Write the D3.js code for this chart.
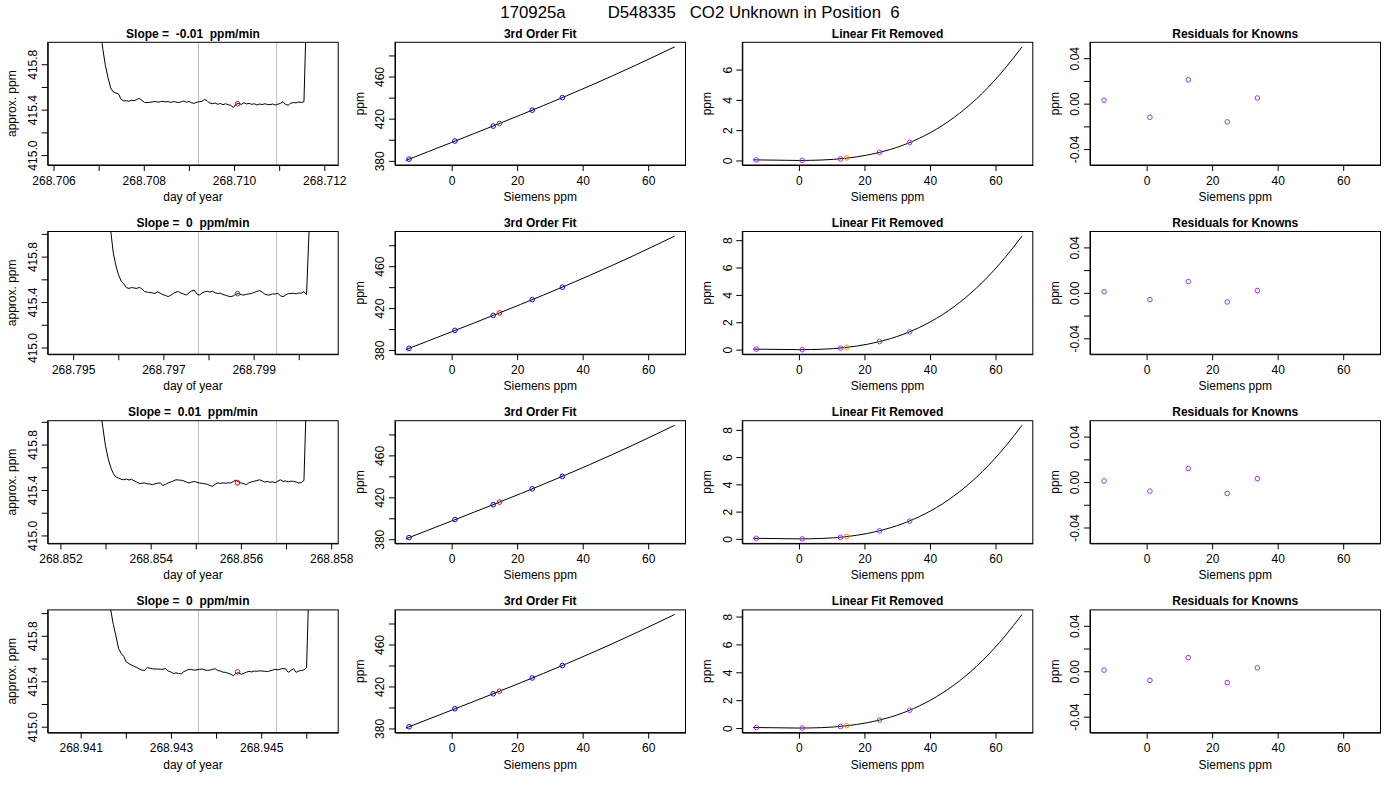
<!DOCTYPE html>
<html lang="en">
<head>
<meta charset="UTF-8">
<title>CO2 Unknown in Position 6</title>
<style>
  body { margin: 0; background: #fff; }
  svg text { font-family: "Liberation Sans", Arial, Helvetica, sans-serif; fill: #000; }
</style>
</head>
<body>
<svg id="chart"></svg>
<script src="https://cdn.jsdelivr.net/npm/d3@7"></script>
<script>
var width = 1400
var height = 800

var titleText = "170925a         D548335   CO2 Unknown in Position  6"
var slopeLabels = ["-0.01", "0", "0.01", "0"]

// analyser trace, one sample every 5 seconds, per row
var sampleSeconds = 5
var traceStart = [268.706109, 268.794675, 268.851957, 268.940508]
var trace1 = [431.2, 428.4, 426.0, 424.0, 422.3, 420.9, 419.8, 418.9, 418.2, 417.7, 417.3, 417.0, 416.8, 416.6, 416.45, 416.3,
  416.12,
  415.931, 415.786, 415.680, 415.591, 415.556, 415.547, 415.538, 415.490, 415.477, 415.479, 415.474, 415.483, 415.479, 415.490, 415.499, 415.481, 415.463, 415.462, 415.465,
  415.468, 415.472, 415.466, 415.470, 415.474, 415.468, 415.471, 415.464, 415.472, 415.467,
  415.462, 415.470, 415.476, 415.465, 415.473, 415.460, 415.456, 415.466, 415.470, 415.474,
  415.490, 415.476, 415.458, 415.452, 415.459, 415.447, 415.455, 415.444, 415.452, 415.443,
  415.438, 415.420, 415.448, 415.455, 415.446, 415.460, 415.451, 415.455, 415.447, 415.452,
  415.441, 415.450, 415.445, 415.452, 415.446, 415.444, 415.450, 415.441, 415.448, 415.455,
  415.470, 415.445, 415.440, 415.458, 415.462, 415.460, 415.468, 415.463, 415.470,
  416.30,
  418.5, 421.0, 423.2, 425.0, 426.5, 427.7, 428.6, 429.3]
var trace2 = [433.0, 430.5, 428.3, 426.4, 424.7, 423.3, 422.0, 420.9, 420.0, 419.2, 418.6, 418.0, 417.6, 417.2, 416.9, 416.7, 416.5, 416.35, 416.22, 416.12,
  416.03,
  415.83, 415.72, 415.64, 415.585, 415.560, 415.527, 415.520, 415.528, 415.523, 415.520, 415.530, 415.515, 415.492, 415.487, 415.485,
  415.480, 415.476, 415.490, 415.478, 415.465, 415.458, 415.448, 415.460, 415.476, 415.488,
  415.492, 415.478, 415.470, 415.462, 415.482, 415.498, 415.505, 415.470, 415.462, 415.480,
  415.490, 415.494, 415.488, 415.495, 415.482, 415.475, 415.478, 415.466, 415.460, 415.452,
  415.447, 415.455, 415.470, 415.474, 415.465, 415.462, 415.468, 415.472, 415.476, 415.485,
  415.495, 415.500, 415.488, 415.470, 415.462, 415.463, 415.472, 415.470, 415.477, 415.456,
  415.447, 415.462, 415.474, 415.475, 415.478, 415.472, 415.480, 415.478, 415.491, 415.465,
  416.05,
  418.0, 420.3, 422.2, 423.8, 425.1, 426.1, 426.9]
var trace3 = [432.0, 429.2, 426.8, 424.8, 423.1, 421.7, 420.5, 419.5, 418.7, 418.1, 417.6, 417.2, 416.9, 416.65, 416.45, 416.3,
  416.12,
  415.95, 415.79, 415.68, 415.60, 415.545, 415.515, 415.505, 415.495, 415.490, 415.497, 415.488, 415.494, 415.480, 415.470, 415.456, 415.460, 415.462, 415.456, 415.452,
  415.447, 415.455, 415.460, 415.462, 415.440, 415.450, 415.462, 415.470, 415.480, 415.490,
  415.488, 415.486, 415.480, 415.470, 415.462, 415.470, 415.475, 415.468, 415.462, 415.458,
  415.455, 415.450, 415.440, 415.432, 415.450, 415.462, 415.458, 415.462, 415.460, 415.463,
  415.462, 415.475, 415.488, 415.470, 415.462, 415.455, 415.448, 415.465, 415.472, 415.478,
  415.483, 415.490, 415.480, 415.470, 415.475, 415.468, 415.472, 415.465, 415.478, 415.490,
  415.475, 415.480, 415.472, 415.478, 415.476, 415.470, 415.462, 415.465, 415.485,
  416.25,
  418.4, 420.8, 422.9, 424.6, 426.0, 427.1, 428.0, 428.7]
var trace4 = [434.0, 431.3, 428.9, 426.8, 425.0, 423.4, 422.0, 420.8, 419.8, 419.0, 418.4, 417.9, 417.5, 417.1, 416.8, 416.6, 416.45, 416.3, 416.18, 416.08,
  416.03,
  415.90, 415.80, 415.69, 415.645, 415.618, 415.570, 415.555, 415.542, 415.530, 415.521, 415.508, 415.498, 415.495, 415.521, 415.515,
  415.510, 415.507, 415.508, 415.506, 415.505, 415.512, 415.490, 415.482, 415.468, 415.474,
  415.468, 415.465, 415.485, 415.495, 415.505, 415.502, 415.498, 415.500, 415.505, 415.508,
  415.500, 415.495, 415.498, 415.505, 415.510, 415.495, 415.490, 415.480, 415.478, 415.470,
  415.462, 415.448, 415.470, 415.475, 415.462, 415.470, 415.480, 415.487, 415.482, 415.490,
  415.488, 415.492, 415.490, 415.488, 415.485, 415.492, 415.498, 415.505, 415.500, 415.507,
  415.512, 415.508, 415.478, 415.495, 415.512, 415.478, 415.490, 415.495, 415.500, 415.520,
  416.30,
  418.6, 420.9, 422.8, 424.4, 425.7, 426.7, 427.5]
var traces = [trace1, trace2, trace3, trace4]
var traceYLim = [[414.953, 415.953], [414.981, 415.981], [414.970, 415.970], [414.988, 415.988]]
var windowStart = [268.709212, 268.797776, 268.855058, 268.943609]
var windowEnd = [268.710944, 268.799510, 268.856792, 268.945343]
var unknownTime = [268.710078, 268.798643, 268.855925, 268.944476]
var unknownPpm = [415.452, 415.474, 415.464, 415.483]

// calibration: knowns and the unknown against the Siemens reading
var knownSiemens = [-13.0, 1.0, 12.7, 24.6, 33.8]
var knownAssigned = [381.6, 398.8, 413.0, 428.1, 440.0]
var unknownSiemens = 14.6
var curveSiemens = [-14, -7, 0, 7, 14, 21, 28, 35, 42, 49, 56, 63, 68.1]
var fitPpm = [
  [380.37, 388.92, 397.46, 406.05, 414.73, 423.51, 432.45, 441.57, 450.92, 460.52, 470.42, 480.64, 488.16],
  [380.37, 388.90, 397.43, 406.01, 414.68, 423.48, 432.43, 441.60, 451.01, 460.71, 470.74, 481.12, 488.77],
  [380.37, 388.90, 397.43, 406.01, 414.68, 423.48, 432.43, 441.60, 451.01, 460.71, 470.74, 481.12, 488.77],
  [380.37, 388.90, 397.43, 406.01, 414.68, 423.47, 432.41, 441.57, 450.97, 460.65, 470.65, 481.00, 488.62]
]
var nonlinPpm = [
  [0.04, 0.02, 0, 0.03, 0.14, 0.36, 0.73, 1.29, 2.07, 3.11, 4.44, 6.10, 7.50],
  [0.04, 0.02, 0, 0.03, 0.15, 0.40, 0.81, 1.43, 2.29, 3.44, 4.92, 6.75, 8.30],
  [0.04, 0.02, 0, 0.03, 0.15, 0.40, 0.82, 1.44, 2.30, 3.46, 4.94, 6.78, 8.34],
  [0.04, 0.02, 0, 0.03, 0.15, 0.39, 0.79, 1.40, 2.25, 3.38, 4.83, 6.63, 8.15]
]
var knownNonlin = [
  [0.04, 0.00, 0.10, 0.54, 1.19],
  [0.04, 0.00, 0.11, 0.59, 1.30],
  [0.04, 0.00, 0.11, 0.59, 1.30],
  [0.04, 0.00, 0.11, 0.58, 1.28]
]
var unknownNonlin = [0.17, 0.18, 0.18, 0.18]
var residuals = [
  [0.003, -0.012, 0.021, -0.016, 0.005],
  [0.001, -0.006, 0.010, -0.008, 0.002],
  [0.001, -0.008, 0.012, -0.010, 0.003],
  [0.001, -0.008, 0.012, -0.010, 0.003]
]
var residLim = [-0.05, 0.05]

var colLeft = [47.7, 395, 742.3, 1090]
var plotW = 290.5
var plotH = 122.7
function rowTop(r) { return 42.3 + 189.2 * r }
var fontFamily = '"Liberation Sans", Arial, Helvetica, sans-serif'
var purple = "#9B30FF"

var svg = d3.select("#chart").attr("width", width).attr("height", height)
svg.append("rect").attr("width", width).attr("height", height).attr("fill", "#fff")

svg.append("text")
  .attr("x", 700).attr("y", 18.3)
  .attr("text-anchor", "middle")
  .attr("font-size", 16.8)
  .style("white-space", "pre")
  .text(titleText)

// R pads the data range by 4% on each side
function pad(ext) {
  var d = (ext[1] - ext[0]) * 0.04
  return [ext[0] - d, ext[1] + d]
}

// drop labels that would run into the previous one, like R does
function thin(a, scale, sign) {
  var lastEnd = -Infinity
  a.selectAll(".tick text").each(function(d) {
    var w = this.getComputedTextLength()
    var c = sign * scale(d)
    if (c - w / 2 < lastEnd + 6) d3.select(this).remove()
    else lastEnd = c + w / 2
  })
}

function xAxis(g, scale, ticks, fmt) {
  var a = g.append("g").attr("transform", "translate(0," + plotH + ")")
    .call(d3.axisBottom(scale).tickValues(ticks).tickFormat(fmt).tickSize(6).tickSizeOuter(0).tickPadding(5))
  a.attr("font-size", 12).attr("font-family", fontFamily)
  a.selectAll("text").attr("fill", "#000")
  thin(a, scale, 1)
}

function yAxis(g, scale, ticks, fmt) {
  var a = g.append("g")
    .call(d3.axisLeft(scale).tickValues(ticks).tickFormat(fmt).tickSize(6).tickSizeOuter(0))
  a.attr("font-size", 12).attr("font-family", fontFamily)
  a.selectAll("text")
    .attr("fill", "#000")
    .attr("x", 0).attr("y", -10.7).attr("dy", null)
    .attr("text-anchor", "middle")
    .attr("transform", "rotate(-90)")
  thin(a, scale, -1)
}

function decorate(g, title, xlab, ylab) {
  g.append("rect").attr("width", plotW).attr("height", plotH)
    .attr("fill", "none").attr("stroke", "#000").attr("stroke-width", 1)
  g.append("text").attr("x", plotW / 2).attr("y", -4.7)
    .attr("text-anchor", "middle").attr("font-size", 12).attr("font-weight", "bold")
    .style("white-space", "pre").text(title)
  g.append("text").attr("x", plotW / 2).attr("y", plotH + 36)
    .attr("text-anchor", "middle").attr("font-size", 12).text(xlab)
  g.append("text").attr("transform", "translate(-31.5," + (plotH / 2) + ") rotate(-90)")
    .attr("text-anchor", "middle").attr("font-size", 12).text(ylab)
}

function circles(g, xs, ys, x, y, color) {
  g.selectAll(null).data(xs).join("circle")
    .attr("cx", d => x(d)).attr("cy", (d, i) => y(ys[i]))
    .attr("r", 2.3).attr("fill", "none").attr("stroke", color).attr("stroke-width", 1)
}

var fmt0 = d => d.toFixed(0)

for (var r = 0; r < 4; r++) {
  var rowY = rowTop(r)

  // column 1: analyser trace
  var tr = traces[r]
  var t0 = traceStart[r]
  var tTime = (d, i) => t0 + i * sampleSeconds / 86400
  var g1 = svg.append("g").attr("transform", "translate(" + colLeft[0] + "," + rowY + ")")
  var x1 = d3.scaleLinear().domain(pad([t0, tTime(0, tr.length - 1)])).range([0, plotW])
  var y1 = d3.scaleLinear().domain(pad(traceYLim[r])).range([plotH, 0])
  var clipId = "clip" + r
  g1.append("clipPath").attr("id", clipId).append("rect").attr("width", plotW).attr("height", plotH)
  var inner = g1.append("g").attr("clip-path", "url(#" + clipId + ")")
  inner.selectAll(null).data([windowStart[r], windowEnd[r]]).join("line")
    .attr("x1", d => x1(d)).attr("x2", d => x1(d)).attr("y1", 0).attr("y2", plotH)
    .attr("stroke", "#BEBEBE").attr("stroke-width", 1)
  inner.append("path").datum(tr)
    .attr("d", d3.line().x((d, i) => x1(tTime(d, i))).y(d => y1(d)))
    .attr("fill", "none").attr("stroke", "#000").attr("stroke-width", 1)
  circles(inner, [unknownTime[r]], [unknownPpm[r]], x1, y1, "#FF0000")
  xAxis(g1, x1, x1.ticks(6), d => d.toFixed(3))
  yAxis(g1, y1, y1.ticks(5), d => d.toFixed(1))
  decorate(g1, "Slope =  " + slopeLabels[r] + "  ppm/min", "day of year", "approx. ppm")

  var xs = d3.scaleLinear().domain(pad(d3.extent(curveSiemens))).range([0, plotW])

  // column 2: third order fit
  var g2 = svg.append("g").attr("transform", "translate(" + colLeft[1] + "," + rowY + ")")
  var y2 = d3.scaleLinear().domain(pad(d3.extent(fitPpm[r]))).range([plotH, 0])
  var fr = fitPpm[r]
  g2.append("path").datum(curveSiemens)
    .attr("d", d3.line().curve(d3.curveMonotoneX).x(d => xs(d)).y((d, i) => y2(fr[i])))
    .attr("fill", "none").attr("stroke", "#000").attr("stroke-width", 1)
  circles(g2, knownSiemens, knownAssigned, xs, y2, "#0000FF")
  circles(g2, [unknownSiemens], [unknownPpm[r]], xs, y2, "#FF0000")
  xAxis(g2, xs, xs.ticks(5), fmt0)
  yAxis(g2, y2, y2.ticks(6), fmt0)
  decorate(g2, "3rd Order Fit", "Siemens ppm", "ppm")

  // column 3: linear part removed
  var g3 = svg.append("g").attr("transform", "translate(" + colLeft[2] + "," + rowY + ")")
  var y3 = d3.scaleLinear().domain(pad(d3.extent(nonlinPpm[r]))).range([plotH, 0])
  var nr = nonlinPpm[r]
  g3.append("path").datum(curveSiemens)
    .attr("d", d3.line().curve(d3.curveMonotoneX).x(d => xs(d)).y((d, i) => y3(nr[i])))
    .attr("fill", "none").attr("stroke", "#000").attr("stroke-width", 1)
  circles(g3, knownSiemens, knownNonlin[r], xs, y3, purple)
  circles(g3, [unknownSiemens], [unknownNonlin[r]], xs, y3, "#FF8C00")
  xAxis(g3, xs, xs.ticks(5), fmt0)
  yAxis(g3, y3, y3.ticks(5), fmt0)
  decorate(g3, "Linear Fit Removed", "Siemens ppm", "ppm")

  // column 4: residuals
  var g4 = svg.append("g").attr("transform", "translate(" + colLeft[3] + "," + rowY + ")")
  var y4 = d3.scaleLinear().domain(pad(residLim)).range([plotH, 0])
  circles(g4, knownSiemens, residuals[r], xs, y4, purple)
  xAxis(g4, xs, xs.ticks(5), fmt0)
  yAxis(g4, y4, y4.ticks(5), d => d.toFixed(2))
  decorate(g4, "Residuals for Knowns", "Siemens ppm", "ppm")
}
</script>
</body>
</html>
